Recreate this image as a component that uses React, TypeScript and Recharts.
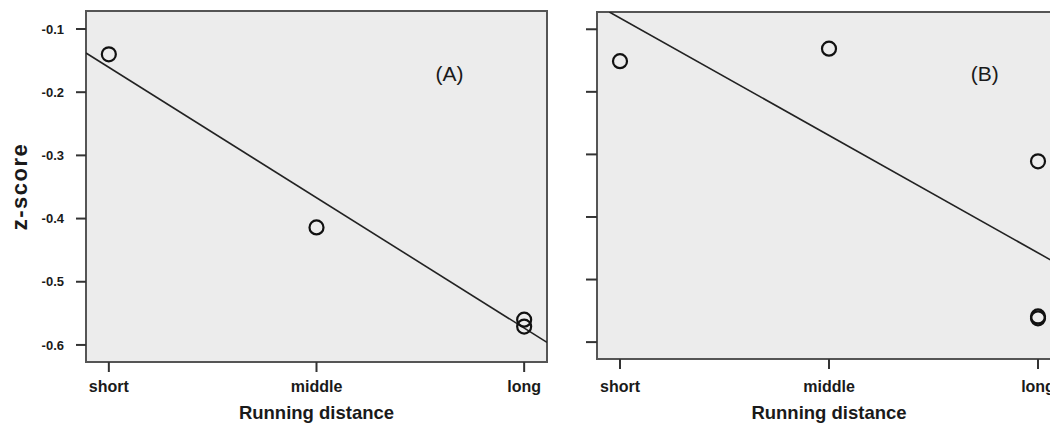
import React from 'react';
import { ScatterChart, Scatter, XAxis, YAxis, CartesianGrid, ReferenceArea, ReferenceDot } from 'recharts';

const categories = ['short', 'middle', 'long'];
const xTicks = [0, 1, 2];
const yTicks = [-0.6, -0.5, -0.4, -0.3, -0.2, -0.1];
const xDomain = [-0.11, 2.11];
const yDomainA = [-0.627, -0.0715];
const yDomainB = [-0.627, -0.0724];

const pointsA = [
  { x: 0, y: -0.14 },
  { x: 1, y: -0.414 },
  { x: 2, y: -0.56 },
  { x: 2, y: -0.571 },
];
const fitA = [
  { x: -0.11, y: -0.138 },
  { x: 2.11, y: -0.596 },
];
const pointsB = [
  { x: 0, y: -0.151 },
  { x: 1, y: -0.131 },
  { x: 2, y: -0.311 },
  { x: 2, y: -0.559 },
  { x: 2, y: -0.562 },
];
const fitB = [
  { x: -0.051, y: -0.0724 },
  { x: 2.11, y: -0.478 },
];
const panelLabels = ['(A)', '(B)'];
const labelPosA = { x: 1.64, y: -0.17 };
const labelPosB = { x: 1.745, y: -0.17 };

const FONT = '"Liberation Sans", Arial, sans-serif';
const BG = '#ececec';
const FRAME = '#555';

const Circle = (props: any) => {
  const { cx, cy } = props;
  if (cx == null || cy == null) return <g />;
  return <circle cx={cx} cy={cy} r={7} fill="none" stroke="#111" strokeWidth={2.2} />;
};
const NoShape = () => <g />;

const XTitle = (offset: number) => (props: any) => {
  const vb = props.viewBox || { x: 0, y: 0, width: 0, height: 0 };
  return (
    <text
      x={vb.x + vb.width / 2}
      y={vb.y + offset}
      textAnchor="middle"
      fill="#1a1a1a"
      style={{ fontFamily: FONT, fontWeight: 700, fontSize: 18.5 }}
    >
      Running distance
    </text>
  );
};

const YTitle = (props: any) => {
  const vb = props.viewBox || { x: 0, y: 0, width: 0, height: 0 };
  const cx = vb.x + 19;
  const cy = vb.y + vb.height / 2;
  return (
    <text
      x={cx}
      y={cy}
      transform={`rotate(-90 ${cx} ${cy})`}
      textAnchor="middle"
      dominantBaseline="central"
      fill="#1a1a1a"
      style={{ fontFamily: FONT, fontWeight: 700, fontSize: 22, letterSpacing: 1.5 }}
    >
      z-score
    </text>
  );
};

const tickStyleY = { fill: '#1a1a1a', fontSize: 13, fontWeight: 700, fontFamily: FONT };
const tickStyleX = { fill: '#1a1a1a', fontSize: 16, fontWeight: 700, fontFamily: FONT };

export default function App() {
  return (
    <div
      style={{
        position: 'fixed',
        left: 0,
        top: 0,
        width: 1050,
        height: 430,
        overflow: 'hidden',
        background: '#fff',
      }}
    >
      <div style={{ position: 'absolute', left: 0, top: 0 }}>
        <ScatterChart width={560} height={430} margin={{ top: 11, right: 13, bottom: 0, left: 0 }}>
          <CartesianGrid fill={BG} horizontal={false} vertical={false} stroke="none" />
          <XAxis
            type="number"
            dataKey="x"
            domain={xDomain}
            ticks={xTicks}
            allowDataOverflow
            interval={0}
            height={68}
            tickSize={10}
            tickMargin={9}
            tickFormatter={(v: number) => categories[v] ?? ''}
            tick={tickStyleX}
            axisLine={{ stroke: FRAME, strokeWidth: 2 }}
            tickLine={{ stroke: '#333', strokeWidth: 2 }}
            label={{ content: XTitle(57) }}
          />
          <YAxis
            type="number"
            dataKey="y"
            domain={yDomainA}
            ticks={yTicks}
            allowDataOverflow
            interval={0}
            width={86}
            tickSize={10}
            tickMargin={12}
            tickFormatter={(v: number) => v.toFixed(1)}
            tick={tickStyleY}
            axisLine={{ stroke: FRAME, strokeWidth: 2 }}
            tickLine={{ stroke: '#333', strokeWidth: 2 }}
            label={{ content: YTitle }}
          />
          <ReferenceArea
            x1={xDomain[0]}
            x2={xDomain[1]}
            y1={yDomainA[0]}
            y2={yDomainA[1]}
            fill="none"
            stroke={FRAME}
            strokeWidth={2}
            ifOverflow="visible"
          />
          <Scatter
            data={fitA}
            shape={NoShape}
            line={{ stroke: '#222', strokeWidth: 1.6 }}
            isAnimationActive={false}
          />
          <Scatter data={pointsA} shape={Circle} isAnimationActive={false} />
          <ReferenceDot
            x={labelPosA.x}
            y={labelPosA.y}
            r={0}
            fill="none"
            stroke="none"
            ifOverflow="visible"
            label={{ value: panelLabels[0], position: 'center', fill: '#1a1a1a', fontSize: 21, fontFamily: FONT }}
          />
        </ScatterChart>
      </div>
      <div style={{ position: 'absolute', left: 560, top: 0 }}>
        <ScatterChart width={510} height={430} margin={{ top: 12, right: 9, bottom: 0, left: 0 }}>
          <CartesianGrid fill={BG} horizontal={false} vertical={false} stroke="none" />
          <XAxis
            type="number"
            dataKey="x"
            domain={xDomain}
            ticks={xTicks}
            allowDataOverflow
            interval={0}
            height={71}
            tickSize={10}
            tickMargin={12}
            tickFormatter={(v: number) => categories[v] ?? ''}
            tick={tickStyleX}
            axisLine={{ stroke: FRAME, strokeWidth: 2 }}
            tickLine={{ stroke: '#333', strokeWidth: 2 }}
            label={{ content: XTitle(60) }}
          />
          <YAxis
            type="number"
            dataKey="y"
            domain={yDomainB}
            ticks={yTicks}
            allowDataOverflow
            interval={0}
            width={37}
            tickSize={11}
            tickMargin={4}
            tickFormatter={() => ''}
            tick={tickStyleY}
            axisLine={{ stroke: FRAME, strokeWidth: 2 }}
            tickLine={{ stroke: '#333', strokeWidth: 2 }}
          />
          <ReferenceArea
            x1={xDomain[0]}
            x2={xDomain[1]}
            y1={yDomainB[0]}
            y2={yDomainB[1]}
            fill="none"
            stroke={FRAME}
            strokeWidth={2}
            ifOverflow="visible"
          />
          <Scatter
            data={fitB}
            shape={NoShape}
            line={{ stroke: '#222', strokeWidth: 1.6 }}
            isAnimationActive={false}
          />
          <Scatter data={pointsB} shape={Circle} isAnimationActive={false} />
          <ReferenceDot
            x={labelPosB.x}
            y={labelPosB.y}
            r={0}
            fill="none"
            stroke="none"
            ifOverflow="visible"
            label={{ value: panelLabels[1], position: 'center', fill: '#1a1a1a', fontSize: 21, fontFamily: FONT }}
          />
        </ScatterChart>
      </div>
    </div>
  );
}
